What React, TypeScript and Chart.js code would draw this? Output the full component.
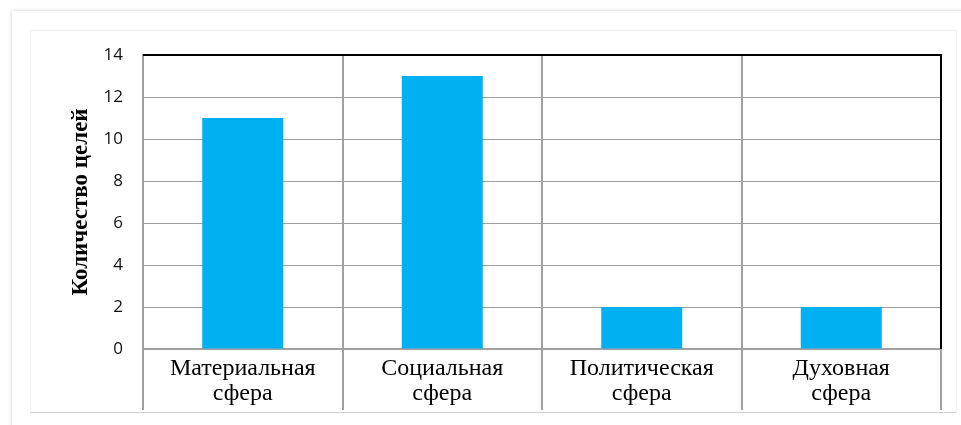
import React, { useEffect, useRef } from "react";
import { Chart, registerables } from "chart.js";

Chart.register(...registerables);

const categories: string[][] = [
  ["Материальная", "сфера"],
  ["Социальная", "сфера"],
  ["Политическая", "сфера"],
  ["Духовная", "сфера"],
];
const goalCounts: number[] = [11, 13, 2, 2];
const yTitle = "Количество целей";
const yMin = 0;
const yMax = 14;
const yStep = 2;

const frameLines = {
  id: "frameLines",
  afterDraw(chart: any) {
    const { ctx, chartArea } = chart;
    ctx.save();
    ctx.strokeStyle = "#000";
    ctx.lineWidth = 2;
    ctx.beginPath();
    ctx.moveTo(chartArea.left, chartArea.top);
    ctx.lineTo(chartArea.right, chartArea.top);
    ctx.lineTo(chartArea.right, chartArea.bottom);
    ctx.stroke();
    ctx.restore();
  },
};

export default function App() {
  const ref = useRef<HTMLCanvasElement | null>(null);
  useEffect(() => {
    if (!ref.current) return;
    const chart = new Chart(ref.current, {
      type: "bar",
      data: {
        labels: categories,
        datasets: [
          {
            data: goalCounts,
            backgroundColor: "#00B0F0",
            borderWidth: 0,
            categoryPercentage: 1,
            barPercentage: 0.406,
          },
        ],
      },
      options: {
        animation: false,
        responsive: false,
        maintainAspectRatio: false,
        layout: { padding: { left: 63, top: 55, right: 20, bottom: 0 } },
        plugins: { legend: { display: false }, tooltip: { enabled: false } },
        scales: {
          x: {
            afterFit: (s: any) => {
              s.height = 76;
            },
            grid: {
              color: "#a0a0a0",
              lineWidth: 2,
              drawTicks: true,
              tickLength: 61,
              offset: true,
            },
            border: { color: "#a0a0a0", width: 2 },
            ticks: {
              padding: -54,
              color: "#000",
              font: { family: "'Liberation Serif', 'Times New Roman', serif", size: 24, lineHeight: 1.05 },
              maxRotation: 0,
              autoSkip: false,
            },
          },
          y: {
            min: yMin,
            max: yMax,
            afterFit: (s: any) => {
              s.width = 80;
            },
            grid: { color: "#a0a0a0", lineWidth: 1, drawTicks: false },
            border: { color: "#a0a0a0", width: 2 },
            ticks: {
              stepSize: yStep,
              padding: 20,
              color: "#111",
              font: { family: "'Open Sans', sans-serif", size: 17 },
            },
            title: {
              display: true,
              text: yTitle,
              color: "#000",
              font: { family: "'Liberation Serif', 'Times New Roman', serif", size: 23, weight: "bold" },
            },
          },
        },
      },
      plugins: [frameLines],
    });
    return () => chart.destroy();
  }, []);

  return (
    <div style={{ position: "fixed", left: 0, top: 0, width: 961, height: 425, background: "#fff", overflow: "hidden" }}>
      <div
        style={{
          position: "absolute",
          left: 12,
          top: 11,
          width: 960,
          height: 430,
          background: "#fff",
          boxShadow: "0 0 4px rgba(0,0,0,0.22)",
        }}
      />
      <div
        style={{
          position: "absolute",
          left: 30,
          top: 30,
          width: 925,
          height: 381,
          border: "1px solid #f2f2f2",
          borderBottom: "1px solid #d0d0d0",
        }}
      />
      <canvas ref={ref} width={961} height={425} style={{ position: "absolute", left: 0, top: 0, width: 961, height: 425 }} />
    </div>
  );
}
